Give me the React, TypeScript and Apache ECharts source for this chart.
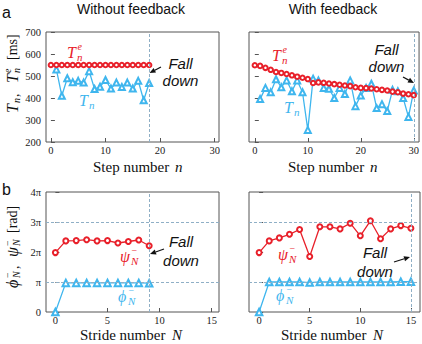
import { useEffect, useRef } from 'react';
import * as echarts from 'echarts';

// ---------- data ----------
const stepNoFb = [0, 1, 2, 3, 4, 5, 6, 7, 8, 9, 10, 11, 12, 13, 14, 15, 16, 17, 18];
const teNoFb = [550, 550, 550, 550, 550, 550, 550, 550, 550, 550, 550, 550, 550, 550, 550, 550, 550, 550, 550];
const tnNoFb = [530, 410, 490, 472, 478, 470, 522, 441, 451, 482, 443, 470, 450, 470, 443, 478, 390, 468]; // n = 1..18

const stepFb = [0, 1, 2, 3, 4, 5, 6, 7, 8, 9, 10, 11, 12, 13, 14, 15, 16, 17, 18, 19, 20, 21, 22, 23, 24, 25, 26, 27, 28, 29, 30];
const teFb = [549, 546, 537, 528, 518, 514, 509, 503, 497, 492, 486, 468, 471, 469, 466, 463, 460, 457, 454, 449, 446, 445, 443, 440, 437, 434, 429, 426, 420, 417, 413];
const tnFb = [395, 446, 426, 485, 449, 480, 431, 480, 426, 255, 488, 480, 446, 442, 400, 446, 418, 480, 363, 411, 446, 465, 354, 372, 341, 437, 431, 400, 314, 434]; // n = 1..30

const strideNoFb = [0, 1, 2, 3, 4, 5, 6, 7, 8, 9];
const psiNoFb = [1.98, 2.37, 2.38, 2.41, 2.37, 2.38, 2.30, 2.35, 2.40, 2.21]; // in units of pi
const phiNoFb = [0, 0.97, 0.97, 0.97, 0.97, 0.97, 0.97, 0.97, 0.97, 0.96];

const strideFb = [0, 1, 2, 3, 4, 5, 6, 7, 8, 9, 10, 11, 12, 13, 14, 15];
const psiFb = [1.98, 2.37, 2.47, 2.59, 2.75, 1.85, 2.84, 2.84, 2.77, 2.96, 2.54, 3.04, 2.44, 2.77, 2.88, 2.79];
const phiFb = [0, 1.0, 1.0, 1.0, 1.0, 0.98, 1.0, 1.0, 1.0, 1.0, 1.0, 1.0, 1.0, 1.0, 1.01, 1.01];

const fallStepNoFb = 18;
const fallStepFb = 30;
const fallStrideNoFb = 9;
const fallStrideFb = 15;
const phaseGuides = [1, 3];

const stepTicks = [0, 10, 20, 30];
const strideTicks = [0, 5, 10, 15];

// ---------- styles ----------
const RED = '#e8202a';
const BLUE = '#3fb6ee';
const DASH = '#8fafc6';
const AXIS = '#555';
const SERIF = '"Liberation Serif", "Times New Roman", serif';
const SANS = '"Liberation Sans", Arial, sans-serif';

const pairs = (xs: number[], ys: number[]) => ys.map((y, i) => [xs[i], y]);

function txt(x: number, y: number, text: string, font: string, fill: string, align = 'left', valign = 'middle') {
  return { type: 'text', x, y, silent: true, style: { text, font, fill, textAlign: align, textVerticalAlign: valign } };
}

function mathLabel(x: number, y: number, base: string, baseW: number, sub: string, sup: string | null, color: string, fs = 16) {
  const children: any[] = [txt(x, y, base, `italic ${fs}px ${SERIF}`, color)];
  children.push(txt(x + baseW, y + fs * 0.3, sub, `italic ${Math.round(fs * 0.66)}px ${SERIF}`, color));
  if (sup) {
    const supFont = sup === 'e' ? `italic ${Math.round(fs * 0.62)}px ${SERIF}` : `${Math.round(fs * 0.62)}px ${SERIF}`;
    children.push(txt(x + baseW + 0.5, y - fs * 0.36, sup, supFont, color));
  }
  return { type: 'group', children };
}

function arrow(x1: number, y1: number, x2: number, y2: number) {
  const a = Math.atan2(y2 - y1, x2 - x1);
  const L = 6, W = 2.6;
  const bx = x2 - L * Math.cos(a), by = y2 - L * Math.sin(a);
  const px = -Math.sin(a) * W, py = Math.cos(a) * W;
  return [
    { type: 'line', silent: true, shape: { x1, y1, x2: bx, y2: by }, style: { stroke: '#111', lineWidth: 1.2 } },
    { type: 'polygon', silent: true, shape: { points: [[x2, y2], [bx + px, by + py], [bx - px, by - py]] }, style: { fill: '#111' } },
  ];
}

function fallDown(cx: number, y1: number, y2: number) {
  const f = `italic 15px ${SANS}`;
  return [txt(cx, y1, 'Fall', f, '#111', 'center'), txt(cx, y2, 'down', f, '#111', 'center')];
}

function axisTitle(x: number, y: number, word: string, wordW: number, sym: string) {
  return [
    txt(x, y, word, `15px ${SERIF}`, '#111'),
    txt(x + wordW, y, sym, `italic 15px ${SERIF}`, '#111'),
  ];
}

function mkX(gridIndex: number, min: number, max: number, ticks: number[]) {
  return {
    type: 'value', gridIndex, min, max,
    axisLine: { show: false },
    splitLine: { show: false },
    axisTick: { show: true, inside: true, length: 4, lineStyle: { color: AXIS }, customValues: ticks },
    axisLabel: { customValues: ticks, fontFamily: SERIF, fontSize: 10.5, color: '#222', margin: 3 },
  };
}

function mkY(gridIndex: number, min: number, max: number, interval: number, showLabel: boolean, formatter?: any) {
  return {
    type: 'value', gridIndex, min, max, interval,
    axisLine: { show: false },
    splitLine: { show: false },
    axisTick: { show: true, inside: true, length: 4, lineStyle: { color: AXIS } },
    axisLabel: { show: showLabel, fontFamily: SERIF, fontSize: 10.5, color: '#222', margin: 5, formatter },
  };
}

const piFmt = (v: number) => (v === 0 ? '0' : v === 1 ? 'π' : v + 'π');

function markLines(data: any[]) {
  return {
    silent: true, symbol: 'none', label: { show: false },
    lineStyle: { type: [3, 2], color: DASH, width: 1 },
    emphasis: { disabled: true },
    data,
  };
}

function lineSeries(xi: number, data: number[][], color: string, symbol: string, size: number, width: number, ml?: any) {
  const s: any = {
    type: 'line', xAxisIndex: xi, yAxisIndex: xi, data,
    symbol, symbolSize: size, showSymbol: true,
    itemStyle: { color, borderColor: color, borderWidth: 1 },
    lineStyle: { color, width },
    emphasis: { disabled: true },
  };
  if (ml) s.markLine = ml;
  return s;
}

export default function App() {
  const ref = useRef<HTMLDivElement>(null);
  useEffect(() => {
    if (!ref.current) return;
    const chart = echarts.init(ref.current, null, { renderer: 'svg' });

    const gridBase = { show: true, borderColor: AXIS, borderWidth: 1, backgroundColor: 'transparent', containLabel: false };

    const graphic: any[] = [
      txt(2, 12, 'a', `16px ${SANS}`, '#111'),
      txt(2, 189, 'b', `16px ${SANS}`, '#111'),
      txt(131, 9, 'Without feedback', `14px ${SANS}`, '#111', 'center'),
      txt(333, 9, 'With feedback', `14px ${SANS}`, '#111', 'center'),
      // x-axis titles
      ...axisTitle(93, 167, 'Step number', 82, 'n'),
      ...axisTitle(288, 167, 'Step number', 82, 'n'),
      ...axisTitle(80, 335, 'Stride number', 92, 'N'),
      ...axisTitle(281, 335, 'Stride number', 92, 'N'),
      // y-axis title (top)
      {
        type: 'group', x: 12, y: 77, rotation: Math.PI / 2,
        children: [
          txt(-36, 0, 'T', `italic 16px ${SERIF}`, '#111'),
          txt(-26, 4, 'n', `italic 10px ${SERIF}`, '#111'),
          txt(-20, 2, ',', `14px ${SERIF}`, '#111'),
          txt(-6, 0, 'T', `italic 16px ${SERIF}`, '#111'),
          txt(4, -5, 'e', `italic 10px ${SERIF}`, '#111'),
          txt(4, 4, 'n', `italic 10px ${SERIF}`, '#111'),
          txt(17, 0, '[ms]', `14px ${SERIF}`, '#111'),
        ],
      },
      // y-axis title (bottom)
      {
        type: 'group', x: 12, y: 247, rotation: Math.PI / 2,
        children: [
          txt(-41, 0, 'ϕ', `italic 16px ${SERIF}`, '#111'),
          txt(-31, 4, 'N', `italic 10px ${SERIF}`, '#111'),
          txt(-31, -5, '−', `10px ${SERIF}`, '#111'),
          txt(-22, 2, ',', `14px ${SERIF}`, '#111'),
          txt(-10, 0, 'ψ', `italic 16px ${SERIF}`, '#111'),
          txt(1, 4, 'N', `italic 10px ${SERIF}`, '#111'),
          txt(1, -5, '−', `10px ${SERIF}`, '#111'),
          txt(14, 0, '[rad]', `14px ${SERIF}`, '#111'),
        ],
      },
      // series labels
      mathLabel(67, 52, 'T', 10, 'n', 'e', RED),
      mathLabel(79, 100, 'T', 10, 'n', null, BLUE),
      mathLabel(272, 55, 'T', 10, 'n', 'e', RED),
      mathLabel(284, 107, 'T', 10, 'n', null, BLUE),
      mathLabel(120, 256, 'ψ', 11, 'N', '−', RED),
      mathLabel(118, 296, 'ϕ', 10, 'N', '−', BLUE),
      mathLabel(278, 254, 'ψ', 11, 'N', '−', RED),
      mathLabel(276, 295, 'ϕ', 10, 'N', '−', BLUE),
      // fall down annotations
      ...fallDown(180.5, 63, 80),
      ...arrow(161, 67, 149.5, 73),
      ...fallDown(386.5, 49, 66),
      ...arrow(403, 77, 414, 83),
      ...fallDown(181, 241, 260),
      ...arrow(164, 249, 150, 254),
      ...fallDown(375, 252, 271),
      ...arrow(394, 262, 410, 257),
    ];

    const option: any = {
      animation: false,
      backgroundColor: '#fff',
      grid: [
        { ...gridBase, left: 46, top: 32, width: 173, height: 110 },
        { ...gridBase, left: 249, top: 32, width: 171, height: 110 },
        { ...gridBase, left: 46, top: 192, width: 173, height: 120 },
        { ...gridBase, left: 249, top: 192, width: 171, height: 120 },
      ],
      xAxis: [
        mkX(0, -0.9, 30.8, stepTicks),
        mkX(1, -1.1, 31.0, stepTicks),
        mkX(2, -0.9, 15.7, strideTicks),
        mkX(3, -1.0, 15.9, strideTicks),
      ],
      yAxis: [
        mkY(0, 200, 700, 100, true),
        mkY(1, 200, 700, 100, false),
        mkY(2, 0, 4, 1, true, piFmt),
        mkY(3, 0, 4, 1, false, piFmt),
      ],
      series: [
        lineSeries(0, pairs(stepNoFb.slice(1), tnNoFb), BLUE, 'emptyTriangle', 6, 1.3,
          markLines([{ xAxis: fallStepNoFb }])),
        lineSeries(0, pairs(stepNoFb, teNoFb), RED, 'emptyCircle', 4.5, 0.9),
        lineSeries(1, pairs(stepFb.slice(1), tnFb), BLUE, 'emptyTriangle', 6, 1.3,
          markLines([{ xAxis: fallStepFb }])),
        lineSeries(1, pairs(stepFb, teFb), RED, 'emptyCircle', 4.5, 0.9),
        lineSeries(2, pairs(strideNoFb, phiNoFb), BLUE, 'emptyTriangle', 6.5, 1.3,
          markLines([{ xAxis: fallStrideNoFb }, ...phaseGuides.map((v) => ({ yAxis: v }))])),
        lineSeries(2, pairs(strideNoFb, psiNoFb), RED, 'emptyCircle', 5, 1.3),
        lineSeries(3, pairs(strideFb, phiFb), BLUE, 'emptyTriangle', 6.5, 1.3,
          markLines([{ xAxis: fallStrideFb }, ...phaseGuides.map((v) => ({ yAxis: v }))])),
        lineSeries(3, pairs(strideFb, psiFb), RED, 'emptyCircle', 5, 1.3),
      ],
      graphic,
    };
    chart.setOption(option);
    return () => chart.dispose();
  }, []);

  return <div ref={ref} style={{ position: 'fixed', left: 0, top: 0, width: 422, height: 344, background: '#fff' }} />;
}
